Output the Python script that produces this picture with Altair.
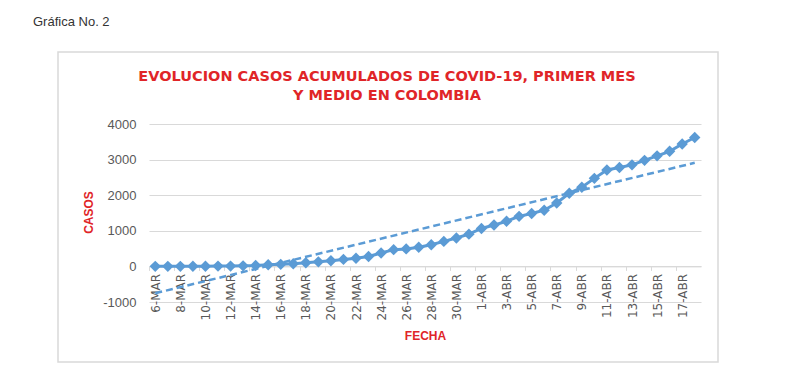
import altair as alt
import pandas as pd

# ---- data -------------------------------------------------------------
fechas = [f"{d}-MAR" for d in range(6, 32)] + [f"{d}-ABR" for d in range(1, 19)]
casos = [1, 1, 1, 3, 3, 9, 9, 16, 24, 45, 57, 75, 102, 128, 158, 196, 231, 277,
         378, 470, 491, 539, 608, 702, 798, 906,
         1065, 1161, 1267, 1406, 1485, 1579, 1780, 2054, 2223, 2473, 2709, 2776,
         2852, 2979, 3105, 3233, 3439, 3621]
y_ticks = [-1000, 0, 1000, 2000, 3000, 4000]
titulo = ["EVOLUCION CASOS ACUMULADOS DE COVID-19, PRIMER MES", "Y MEDIO EN COLOMBIA"]
encabezado = "Gráfica No. 2"

df = pd.DataFrame({"idx": list(range(len(fechas))), "fecha": fechas, "casos": casos})

W, H = 552, 178
BLUE = "#5B9BD5"
RED = "#E02528"
GRID = "#D9D9D9"
half = W / len(fechas) / 2

label_arr = "[" + ",".join(f"'{f}'" for f in fechas) + "]"
x_vals = list(range(0, len(fechas), 2)) + [len(fechas)]

x = alt.X(
    "idx:Q",
    scale=alt.Scale(domain=[-0.5, len(fechas) - 0.5], nice=False, zero=False),
    axis=alt.Axis(
        values=x_vals,
        labelExpr=f"datum.value < {len(fechas)} ? {label_arr}[datum.value] : ''",
        offset=-(H * 1000 / 5000),
        grid=False,
        domainColor=GRID,
        tickColor=GRID,
        tickSize=4,
        tickOffset=-half,
        labelOffset=half,
        labelAngle=270,
        labelFont="DejaVu Sans",
        labelFontSize=12,
        labelColor="#595959",
        labelPadding=3,
        labelOverlap=False,
        labelFlush=False,
        title="FECHA",
        titleX=W / 2,
        titleY=69,
        titleAlign="center",
        titleBaseline="middle",
        titleFont="Liberation Sans",
        titleFontSize=12,
        titleFontWeight="bold",
        titleColor=RED,
    ),
)
y = alt.Y(
    "casos:Q",
    scale=alt.Scale(domain=[-1000, 4000], nice=False),
    axis=alt.Axis(
        values=y_ticks,
        labelExpr="'' + datum.value",
        domain=False,
        ticks=False,
        gridColor=GRID,
        labelFont="Liberation Sans",
        labelFontSize=13,
        labelColor="#595959",
        labelPadding=13,
        title="CASOS",
        titleX=-61,
        titleY=88,
        titleAngle=270,
        titleAlign="center",
        titleBaseline="middle",
        titleFont="Liberation Sans",
        titleFontSize=12,
        titleFontWeight="bold",
        titleColor=RED,
    ),
)

frame = alt.Chart(pd.DataFrame({"a": [0]})).mark_rect(
    fillOpacity=0, stroke=GRID, strokeWidth=1.5
).encode(x=alt.value(-91), x2=alt.value(569), y=alt.value(-72), y2=alt.value(238))

head = alt.Chart(pd.DataFrame({"t": [encabezado]})).mark_text(
    align="left", baseline="middle", font="Liberation Sans Narrow, Liberation Sans",
    fontSize=13, color="#333333"
).encode(text="t:N", x=alt.value(-116), y=alt.value(-102))

title_mark = alt.Chart(pd.DataFrame({"t": ["\n".join(titulo)]})).mark_text(
    align="center", baseline="middle", lineBreak="\n", lineHeight=19,
    font="DejaVu Sans", fontSize=14.5, fontWeight="bold", color=RED
).encode(text="t:N", x=alt.value(238), y=alt.value(-47))

base = alt.Chart(df).encode(x=x, y=y)
line = base.mark_line(color=BLUE, strokeWidth=3)
pts = base.mark_point(shape="diamond", filled=True, size=130, color=BLUE, opacity=1)
trend = base.transform_regression("idx", "casos").mark_line(
    color=BLUE, strokeWidth=2.5, strokeDash=[7, 4]
)

chart = alt.layer(frame, head, title_mark, line, pts, trend).properties(
    width=W,
    height=H,
    autosize=alt.AutoSizeParams(type="none"),
    padding={"left": 141, "top": 116, "right": 97, "bottom": 69},
    background="white",
).configure_view(stroke=None)

chart.save("out.html", embed_options={"renderer": "svg", "actions": False})
